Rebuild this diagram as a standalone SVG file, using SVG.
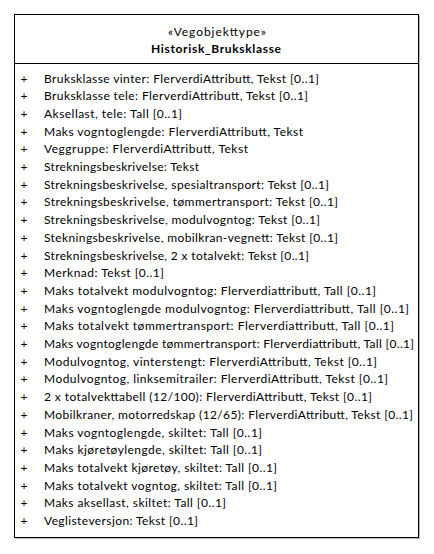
<svg xmlns="http://www.w3.org/2000/svg" width="434" height="554" viewBox="0 0 434 554">
  <style>
    .box { fill: #ffffff; stroke: #000000; stroke-width: 1; }
    .shadow { fill: none; stroke: #b8b8b8; stroke-width: 1; }
    .sep { stroke: #000000; stroke-width: 1; }
    text { font-family: "Lato", "Liberation Sans", sans-serif; font-size: 12px; fill: #000000; }
    .stereo { text-anchor: middle; }
    .name { text-anchor: middle; font-weight: bold; }
    .vis { text-anchor: middle; }
  </style>
  <rect width="434" height="554" fill="#ffffff"/>
  <g id="Historisk_Bruksklasse">
    <!-- drop shadow on right and bottom edges -->
    <polyline class="shadow" points="419.5,15.5 419.5,538.5 15.5,538.5"/>
    <rect class="box" x="14.5" y="14.5" width="404" height="523"/>
    <line class="sep" x1="14.5" y1="63.5" x2="418.5" y2="63.5"/>
    <text class="stereo" x="217" y="36" textLength="98">«Vegobjekttype»</text>
    <text class="name" x="216" y="52.5" textLength="130">Historisk_Bruksklasse</text>
    <g id="attributes">
      <text class="vis" x="24" y="82.5">+</text>
      <text x="44" y="82.5" textLength="275">Bruksklasse vinter: FlerverdiAttributt, Tekst [0..1]</text>
      <text class="vis" x="24" y="100.2">+</text>
      <text x="44" y="100.2" textLength="264">Bruksklasse tele: FlerverdiAttributt, Tekst [0..1]</text>
      <text class="vis" x="24" y="117.9">+</text>
      <text x="44" y="117.9" textLength="138">Aksellast, tele: Tall [0..1]</text>
      <text class="vis" x="24" y="135.6">+</text>
      <text x="44" y="135.6" textLength="259">Maks vogntoglengde: FlerverdiAttributt, Tekst</text>
      <text class="vis" x="24" y="153.3">+</text>
      <text x="44" y="153.3" textLength="204">Veggruppe: FlerverdiAttributt, Tekst</text>
      <text class="vis" x="24" y="171.0">+</text>
      <text x="44" y="171.0" textLength="155">Strekningsbeskrivelse: Tekst</text>
      <text class="vis" x="24" y="188.7">+</text>
      <text x="44" y="188.7" textLength="285">Strekningsbeskrivelse, spesialtransport: Tekst [0..1]</text>
      <text class="vis" x="24" y="206.4">+</text>
      <text x="44" y="206.4" textLength="294">Strekningsbeskrivelse, tømmertransport: Tekst [0..1]</text>
      <text class="vis" x="24" y="224.1">+</text>
      <text x="44" y="224.1" textLength="276">Strekningsbeskrivelse, modulvogntog: Tekst [0..1]</text>
      <text class="vis" x="24" y="241.8">+</text>
      <text x="44" y="241.8" textLength="294">Stekningsbeskrivelse, mobilkran-vegnett: Tekst [0..1]</text>
      <text class="vis" x="24" y="259.5">+</text>
      <text x="44" y="259.5" textLength="265">Strekningsbeskrivelse, 2 x totalvekt: Tekst [0..1]</text>
      <text class="vis" x="24" y="277.2">+</text>
      <text x="44" y="277.2" textLength="120">Merknad: Tekst [0..1]</text>
      <text class="vis" x="24" y="294.9">+</text>
      <text x="44" y="294.9" textLength="332">Maks totalvekt modulvogntog: Flerverdiattributt, Tall [0..1]</text>
      <text class="vis" x="24" y="312.6">+</text>
      <text x="44" y="312.6" textLength="365">Maks vogntoglengde modulvogntog: Flerverdiattributt, Tall [0..1]</text>
      <text class="vis" x="24" y="330.3">+</text>
      <text x="44" y="330.3" textLength="350">Maks totalvekt tømmertransport: Flerverdiattributt, Tall [0..1]</text>
      <text class="vis" x="24" y="348.0">+</text>
      <text x="44" y="348.0" textLength="370">Maks vogntoglengde tømmertransport: Flerverdiattributt, Tall [0..1]</text>
      <text class="vis" x="24" y="365.7">+</text>
      <text x="44" y="365.7" textLength="333">Modulvogntog, vinterstengt: FlerverdiAttributt, Tekst [0..1]</text>
      <text class="vis" x="24" y="383.4">+</text>
      <text x="44" y="383.4" textLength="344">Modulvogntog, linksemitrailer: FlerverdiAttributt, Tekst [0..1]</text>
      <text class="vis" x="24" y="401.1">+</text>
      <text x="44" y="401.1" textLength="328">2 x totalvekttabell (12/100): FlerverdiAttributt, Tekst [0..1]</text>
      <text class="vis" x="24" y="418.8">+</text>
      <text x="44" y="418.8" textLength="369">Mobilkraner, motorredskap (12/65): FlerverdiAttributt, Tekst [0..1]</text>
      <text class="vis" x="24" y="436.5">+</text>
      <text x="44" y="436.5" textLength="218">Maks vogntoglengde, skiltet: Tall [0..1]</text>
      <text class="vis" x="24" y="454.2">+</text>
      <text x="44" y="454.2" textLength="218">Maks kjøretøylengde, skiltet: Tall [0..1]</text>
      <text class="vis" x="24" y="471.9">+</text>
      <text x="44" y="471.9" textLength="233">Maks totalvekt kjøretøy, skiltet: Tall [0..1]</text>
      <text class="vis" x="24" y="489.6">+</text>
      <text x="44" y="489.6" textLength="233">Maks totalvekt vogntog, skiltet: Tall [0..1]</text>
      <text class="vis" x="24" y="507.3">+</text>
      <text x="44" y="507.3" textLength="182">Maks aksellast, skiltet: Tall [0..1]</text>
      <text class="vis" x="24" y="525.0">+</text>
      <text x="44" y="525.0" textLength="154">Veglisteversjon: Tekst [0..1]</text>
    </g>
  </g>
</svg>
